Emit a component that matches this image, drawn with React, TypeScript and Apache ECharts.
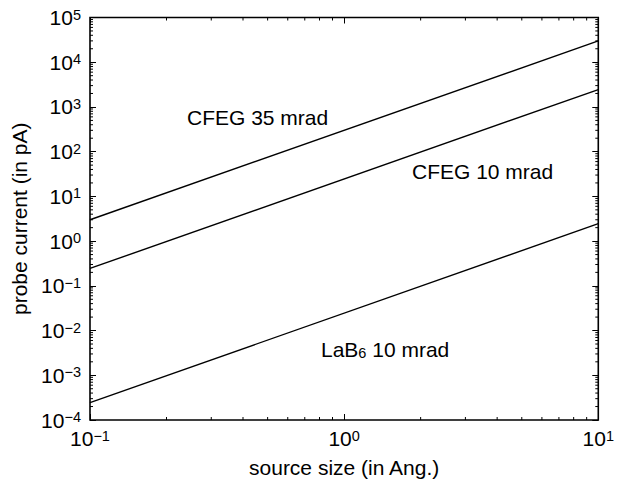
import React, { useEffect, useRef } from "react";
import * as echarts from "echarts";

// ---- data ----
const sourceSize = [0.1, 10]; // Angstrom
const cfeg35 = [3.0, 30000]; // pA
const cfeg10 = [0.245, 2450]; // pA
const lab6 = [0.000245, 2.45]; // pA

const xMin = 0.1;
const xMax = 10;
const yMin = 1e-4;
const yMax = 1e5;

const minorMultipliers = [2, 3, 4, 5, 6, 7, 8, 9];
const xDecades = [0.1, 1];
const yDecades = [1e-4, 1e-3, 1e-2, 1e-1, 1, 1e1, 1e2, 1e3, 1e4];

const labels = [
  { text: "CFEG 35 mrad", sub: "", rest: "" },
  { text: "CFEG 10 mrad", sub: "", rest: "" },
  { text: "LaB", sub: "6", rest: " 10 mrad" },
];

const FONT = "'Liberation Sans', Arial, Helvetica, sans-serif";
const FS = 21;
const FS_SMALL = 14.5;

const xMinor: number[] = [];
xDecades.forEach((d) => minorMultipliers.forEach((m) => xMinor.push(d * m)));
const yMinor: number[] = [];
yDecades.forEach((d) => minorMultipliers.forEach((m) => yMinor.push(d * m)));

const supFormatter = (v: number) => {
  const e = Math.round(Math.log10(v));
  const s = e < 0 ? "\u2212" + Math.abs(e) : String(e);
  return `{b|10}{s|${s}}`;
};

const labelRich = {
  b: { fontSize: FS, fontFamily: FONT, color: "#000" },
  s: { fontSize: FS_SMALL, fontFamily: FONT, color: "#000", verticalAlign: "top" as const },
};

export default function App() {
  const ref = useRef<HTMLDivElement>(null);
  useEffect(() => {
    if (!ref.current) return;
    const chart = echarts.init(ref.current, undefined, { renderer: "svg" });
    const lineStyle = { color: "#000", width: 1.4 };
    const mkLine = (name: string, vals: number[]) => ({
      name,
      type: "line",
      data: sourceSize.map((x, i) => [x, vals[i]]),
      showSymbol: false,
      symbol: "none",
      lineStyle,
      silent: true,
    });
    const tick = { show: true, inside: true, length: 6, lineStyle: { color: "#000", width: 1 } };
    const option: any = {
      animation: false,
      backgroundColor: "#fff",
      grid: {
        left: 90,
        right: 15,
        top: 17.5,
        bottom: 61,
        show: true,
        borderColor: "#000",
        borderWidth: 1.6,
        backgroundColor: "transparent",
      },
      xAxis: [
        {
          type: "log",
          logBase: 10,
          min: xMin,
          max: xMax,
          interval: 1,
          position: "bottom",
          name: "source size (in Ang.)",
          nameLocation: "middle",
          nameGap: 37,
          nameTextStyle: { fontSize: FS, fontFamily: FONT, color: "#000", verticalAlign: "top" },
          axisLine: { show: false },
          axisTick: tick,
          axisLabel: { formatter: supFormatter, rich: labelRich, margin: 8 },
          splitLine: { show: false },
        },
        {
          type: "log",
          logBase: 10,
          min: xMin,
          max: xMax,
          interval: 1,
          position: "top",
          axisLine: { show: false },
          axisTick: tick,
          axisLabel: { show: false },
          splitLine: { show: false },
        },
      ],
      yAxis: [
        {
          type: "log",
          logBase: 10,
          min: yMin,
          max: yMax,
          interval: 1,
          position: "left",
          name: "probe current (in pA)",
          nameLocation: "middle",
          nameGap: 58,
          nameTextStyle: { fontSize: FS, fontFamily: FONT, color: "#000" },
          axisLine: { show: false },
          axisTick: tick,
          axisLabel: { formatter: supFormatter, rich: labelRich, margin: 9 },
          splitLine: { show: false },
        },
        {
          type: "log",
          logBase: 10,
          min: yMin,
          max: yMax,
          interval: 1,
          position: "right",
          axisLine: { show: false },
          axisTick: tick,
          axisLabel: { show: false },
          splitLine: { show: false },
        },
      ],
      series: [
        mkLine("CFEG 35 mrad", cfeg35),
        mkLine("CFEG 10 mrad", cfeg10),
        mkLine("LaB6 10 mrad", lab6),
        {
          type: "custom",
          silent: true,
          clip: false,
          data: xMinor.map((v) => [v, 1]),
          renderItem: (params: any, api: any) => {
            const cs = params.coordSys;
            const p = api.coord([api.value(0), api.value(1)]);
            const st = { stroke: "#000", lineWidth: 1 };
            return {
              type: "group",
              children: [
                { type: "line", shape: { x1: p[0], y1: cs.y + cs.height, x2: p[0], y2: cs.y + cs.height - 3 }, style: st },
                { type: "line", shape: { x1: p[0], y1: cs.y, x2: p[0], y2: cs.y + 3 }, style: st },
              ],
            };
          },
        },
        {
          type: "custom",
          silent: true,
          clip: false,
          data: yMinor.map((v) => [1, v]),
          renderItem: (params: any, api: any) => {
            const cs = params.coordSys;
            const p = api.coord([api.value(0), api.value(1)]);
            const st = { stroke: "#000", lineWidth: 1 };
            return {
              type: "group",
              children: [
                { type: "line", shape: { x1: cs.x, y1: p[1], x2: cs.x + 3, y2: p[1] }, style: st },
                { type: "line", shape: { x1: cs.x + cs.width, y1: p[1], x2: cs.x + cs.width - 3, y2: p[1] }, style: st },
              ],
            };
          },
        },
      ],
      graphic: [
        {
          type: "text",
          left: 187,
          top: 107,
          style: { text: labels[0].text, font: `${FS}px ${FONT}`, fill: "#000" },
        },
        {
          type: "text",
          left: 412,
          top: 161,
          style: { text: labels[1].text, font: `${FS}px ${FONT}`, fill: "#000" },
        },
        {
          type: "text",
          left: 321,
          top: 339,
          style: {
            text: `{a|${labels[2].text}}{s|${labels[2].sub}}{a|${labels[2].rest}}`,
            rich: {
              a: { fontSize: FS, fontFamily: FONT, fill: "#000" },
              s: { fontSize: FS_SMALL, fontFamily: FONT, fill: "#000", verticalAlign: "bottom", padding: [7, 0, 0, 0] },
            },
          },
        },
      ],
    };
    chart.setOption(option);
    return () => chart.dispose();
  }, []);
  return (
    <div
      ref={ref}
      style={{ position: "fixed", left: 0, top: 0, width: 617, height: 483 }}
    />
  );
}
